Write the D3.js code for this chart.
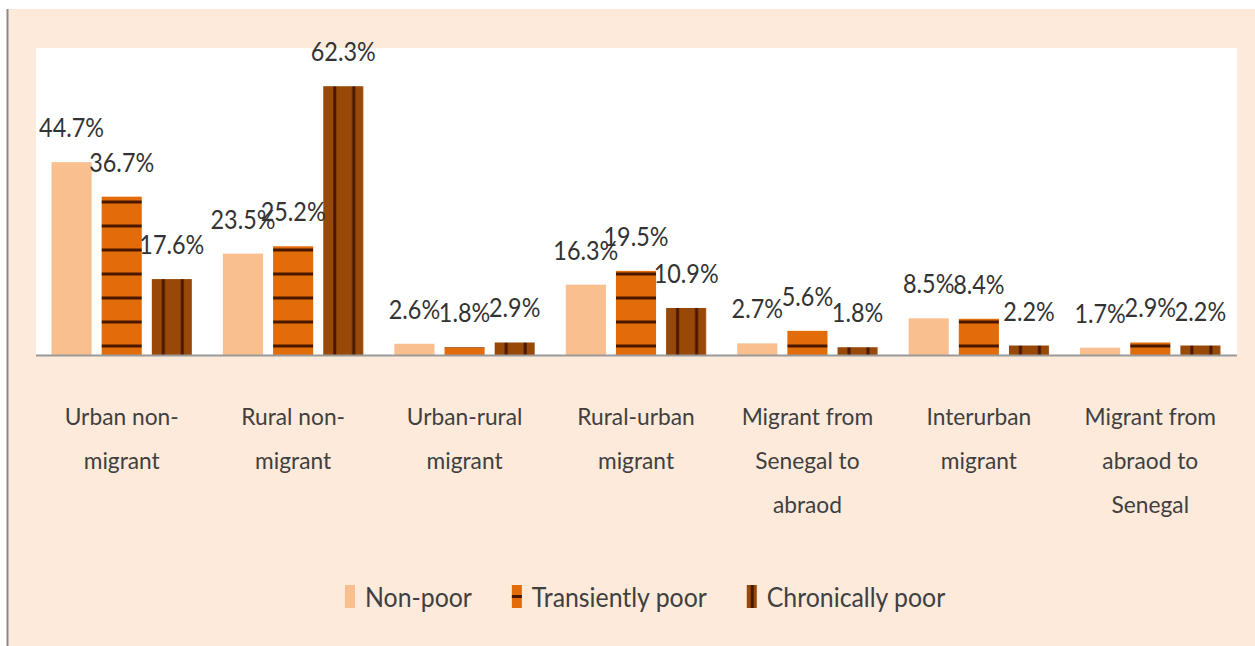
<!DOCTYPE html>
<html>
<head>
<meta charset="utf-8">
<script src="https://cdn.jsdelivr.net/npm/d3@7"></script>
<style>
  html, body { margin: 0; padding: 0; background: #ffffff; }
  svg { display: block; }
</style>
</head>
<body>
<div id="chart"></div>
<script>
// categories and series
const categories = [
    "Urban non-\nmigrant",
    "Rural non-\nmigrant",
    "Urban-rural\nmigrant",
    "Rural-urban\nmigrant",
    "Migrant from\nSenegal to\nabraod",
    "Interurban\nmigrant",
    "Migrant from\nabraod to\nSenegal"
];
const seriesNames = ["Non-poor", "Transiently poor", "Chronically poor"];
const nonPoor   = [44.7, 23.5, 2.6, 16.3, 2.7, 8.5, 1.7];
const transient = [36.7, 25.2, 1.8, 19.5, 5.6, 8.4, 2.9];
const chronic   = [17.6, 62.3, 2.9, 10.9, 1.8, 2.2, 2.2];

const W = 1255, H = 646;
const FONT = "Lato, 'Open Sans', sans-serif";
const CAP = 0.7165; // Lato cap height / em

const fills = { "Non-poor": "#f9bf8f", "Transiently poor": "#e36c0a", "Chronically poor": "#984807" };
const stripe = "#4a1800";

const svg = d3.select("#chart").append("svg")
    .attr("width", W)
    .attr("height", H);

// text measuring, used to squeeze Lato to the stretched Calibri look
function measure(str, size) {
    const t = svg.append("text").attr("font-family", FONT).attr("font-size", size).text(str);
    const w = t.node().getComputedTextLength();
    t.remove();
    return w;
}
function textStyle(capPx, refStr, refWidth) {
    const size = capPx / CAP;
    return { size: size, sx: refWidth / measure(refStr, size) };
}
const labelStyle = textStyle(19.5, "44.7%", 65);
const axisStyle = textStyle(17, "Urban non-", 114);
const legendStyle = textStyle(20, "Transiently poor", 175);

// background
svg.append("rect").attr("x", 0).attr("y", 0).attr("width", W).attr("height", H).attr("fill", "#ffffff");
svg.append("rect").attr("x", 7).attr("y", 9).attr("width", W - 7).attr("height", H - 9).attr("fill", "#fdeadb");
svg.append("line").attr("x1", 7.5).attr("x2", 7.5).attr("y1", 9).attr("y2", H)
    .attr("stroke", "#8a8a8a").attr("stroke-width", 2);

const plot = { left: 36, right: 1237, top: 48, bottom: 355 };
svg.append("rect")
    .attr("x", plot.left).attr("y", plot.top)
    .attr("width", plot.right - plot.left).attr("height", plot.bottom - plot.top)
    .attr("fill", "#ffffff");

// patterns
const defs = svg.append("defs");
const hPat = defs.append("pattern")
    .attr("id", "hstripe")
    .attr("patternUnits", "userSpaceOnUse")
    .attr("width", 8).attr("height", 24);
hPat.append("rect").attr("width", 8).attr("height", 24).attr("fill", fills["Transiently poor"]);
hPat.append("rect").attr("y", 8.5).attr("width", 8).attr("height", 3).attr("fill", stripe);

const vPat = defs.append("pattern")
    .attr("id", "vstripe")
    .attr("patternUnits", "objectBoundingBox")
    .attr("width", 1).attr("height", 1);
vPat.append("rect").attr("width", 40).attr("height", 400).attr("fill", fills["Chronically poor"]);
vPat.append("rect").attr("x", 10).attr("width", 3).attr("height", 400).attr("fill", stripe);
vPat.append("rect").attr("x", 29).attr("width", 3).attr("height", 400).attr("fill", stripe);

const patFill = {
    "Non-poor": fills["Non-poor"],
    "Transiently poor": "url(#hstripe)",
    "Chronically poor": "url(#vstripe)"
};

// scales
const x0 = d3.scaleBand().domain(categories).range([plot.left, plot.right - 1]);
const x1 = d3.scaleBand().domain(seriesNames)
    .range([15.5, x0.bandwidth() - 15.5]).paddingInner(0.2);
const y = d3.scaleLinear().domain([0, 70]).range([plot.bottom, 53]);

const rows = categories.map((c, i) => ({
    cat: c,
    values: [
        { key: "Non-poor", v: nonPoor[i] },
        { key: "Transiently poor", v: transient[i] },
        { key: "Chronically poor", v: chronic[i] }
    ]
}));

const groups = svg.selectAll(".grp")
    .data(rows)
    .enter().append("g")
    .attr("class", "grp")
    .attr("transform", d => `translate(${x0(d.cat)},0)`);

groups.selectAll("rect")
    .data(d => d.values)
    .enter().append("rect")
    .attr("x", d => x1(d.key))
    .attr("y", d => y(d.v))
    .attr("width", x1.bandwidth())
    .attr("height", d => y(0) - y(d.v))
    .attr("fill", d => patFill[d.key]);

// baseline
svg.append("line")
    .attr("x1", plot.left).attr("x2", plot.right)
    .attr("y1", plot.bottom + 0.5).attr("y2", plot.bottom + 0.5)
    .attr("stroke", "#9a9a9a").attr("stroke-width", 2);

// data labels
groups.selectAll(".val")
    .data(d => d.values)
    .enter().append("text")
    .attr("class", "val")
    .attr("transform", d => `translate(${x1(d.key) + x1.bandwidth() / 2},${y(d.v) - 25}) scale(${labelStyle.sx},1)`)
    .attr("text-anchor", "middle")
    .attr("font-family", FONT)
    .attr("font-size", labelStyle.size)
    .attr("fill", "#333333")
    .text(d => d.v.toFixed(1) + "%");

// category labels
groups.each(function (d) {
    const lines = d.cat.split("\n");
    d3.select(this).selectAll(".cat")
        .data(lines)
        .enter().append("text")
        .attr("class", "cat")
        .attr("transform", (l, i) => `translate(${x0.bandwidth() / 2},${425 + i * 44}) scale(${axisStyle.sx},1)`)
        .attr("text-anchor", "middle")
        .attr("font-family", FONT)
        .attr("font-size", axisStyle.size)
        .attr("fill", "#404040")
        .text(l => l);
});

// legend
const legend = svg.append("g").attr("class", "legend");
let lx = 345;
seriesNames.forEach(name => {
    legend.append("rect")
        .attr("x", lx).attr("y", 585)
        .attr("width", 10).attr("height", 23)
        .attr("fill", fills[name]);
    if (name === "Transiently poor") {
        legend.append("rect").attr("x", lx).attr("y", 595).attr("width", 10).attr("height", 3).attr("fill", stripe);
    }
    if (name === "Chronically poor") {
        legend.append("rect").attr("x", lx + 4).attr("y", 585).attr("width", 3).attr("height", 23).attr("fill", stripe);
    }
    const t = legend.append("text")
        .attr("transform", `translate(${lx + 20},607) scale(${legendStyle.sx},1)`)
        .attr("font-family", FONT)
        .attr("font-size", legendStyle.size)
        .attr("fill", "#404040")
        .text(name);
    lx += 20 + t.node().getComputedTextLength() * legendStyle.sx + 40;
});
</script>
</body>
</html>
